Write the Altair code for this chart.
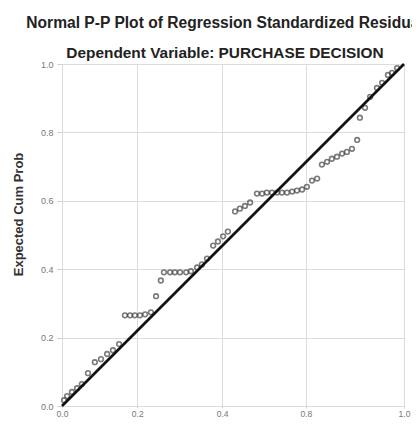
import altair as alt
import pandas as pd

# Observed cumulative probability (x) and expected cumulative probability (y)
OBSERVED = [0.006, 0.015, 0.029, 0.044, 0.058, 0.076, 0.096, 0.114, 0.132, 0.149,
            0.167, 0.184, 0.199, 0.213, 0.228, 0.243, 0.260, 0.275, 0.289, 0.298,
            0.316, 0.330, 0.345, 0.363, 0.377, 0.395, 0.409, 0.424, 0.442, 0.456,
            0.471, 0.485, 0.506, 0.520, 0.535, 0.550, 0.570, 0.585, 0.599, 0.614,
            0.629, 0.643, 0.658, 0.673, 0.687, 0.702, 0.716, 0.731, 0.746, 0.760,
            0.775, 0.789, 0.804, 0.819, 0.833, 0.848, 0.863, 0.871, 0.886, 0.901,
            0.921, 0.936, 0.953, 0.965, 0.980]
EXPECTED = [0.017, 0.029, 0.041, 0.052, 0.064, 0.096, 0.128, 0.137, 0.152, 0.163,
            0.181, 0.265, 0.265, 0.265, 0.265, 0.268, 0.274, 0.321, 0.367, 0.391,
            0.391, 0.391, 0.391, 0.391, 0.394, 0.405, 0.414, 0.431, 0.469, 0.481,
            0.496, 0.510, 0.569, 0.577, 0.585, 0.595, 0.621, 0.621, 0.624, 0.624,
            0.624, 0.624, 0.624, 0.627, 0.630, 0.633, 0.641, 0.659, 0.665, 0.706,
            0.714, 0.723, 0.729, 0.738, 0.743, 0.752, 0.778, 0.843, 0.872, 0.904,
            0.930, 0.945, 0.968, 0.974, 0.988]

DIAG = [0.0, 1.0]

X_TICKS = [0.0, 0.22, 0.468, 0.713, 1.0]
X_TICK_LABELS = ["0.0", "0.2", "0.4", "0.8", "1.0"]
Y_TICKS = [0.0, 0.2, 0.4, 0.6, 0.8, 1.0]

TITLE = "Normal P-P Plot of Regression Standardized Residual"
SUBTITLE = "Dependent Variable: PURCHASE DECISION"
Y_TITLE = "Expected Cum Prob"

pts = pd.DataFrame({"obs": OBSERVED, "exp": EXPECTED})
diag = pd.DataFrame({"obs": DIAG, "exp": DIAG})

label_expr = " : ".join(
    f"abs(datum.value - {v}) < 0.001 ? '{l}'" for v, l in zip(X_TICKS, X_TICK_LABELS)
) + " : ''"

xscale = alt.Scale(domain=[0, 1], nice=False, zero=False)
yscale = alt.Scale(domain=[0, 1], nice=False, zero=False)

xaxis = alt.Axis(values=X_TICKS, labelExpr=label_expr, title=None, grid=True,
                 gridColor="#dcdcdc", domain=False, tickColor="#cfcfcf", tickSize=2,
                 labelPadding=1, labelColor="#777", labelFontSize=8.5,
                 labelOverlap=False, labelFlush=False, labelFont="Liberation Sans")
yaxis = alt.Axis(values=Y_TICKS, format=".1f", title=Y_TITLE, grid=True,
                 gridColor="#dcdcdc", domain=False, tickColor="#cfcfcf", tickSize=5,
                 labelPadding=4, labelColor="#777", labelFontSize=9,
                 labelOverlap=False, labelFlush=False,
                 labelFont="Liberation Sans", titleFont="Liberation Sans",
                 titleFontSize=13, titleFontWeight="bold", titleColor="#333",
                 titleX=-37, titleY=150)

points = alt.Chart(pts).mark_point(shape="circle", filled=False, size=22,
                                   color="#444", strokeWidth=1.6).encode(
    x=alt.X("obs:Q", scale=xscale, axis=xaxis),
    y=alt.Y("exp:Q", scale=yscale, axis=yaxis),
)

line = alt.Chart(diag).mark_line(color="#111", strokeWidth=2.6).encode(
    x=alt.X("obs:Q", scale=xscale),
    y=alt.Y("exp:Q", scale=yscale),
)

chart = alt.layer(points, line).properties(
    width=342,
    height=342,
    title=alt.TitleParams(
        text=TITLE, subtitle=SUBTITLE, anchor="middle", dx=-8,
        font="Liberation Sans", fontSize=15.6, fontWeight="bold", color="#222",
        subtitleFont="Liberation Sans", subtitleFontSize=15.4,
        subtitleFontWeight="bold", subtitleColor="#222",
        offset=-3, subtitlePadding=15,
    ),
    autosize=alt.AutoSizeParams(type="none"),
    padding={"left": 54, "top": 56, "right": 8, "bottom": 13},
).configure_view(stroke=None).configure(background="white")

chart.save("out.html", embed_options={"renderer": "svg", "actions": False})
